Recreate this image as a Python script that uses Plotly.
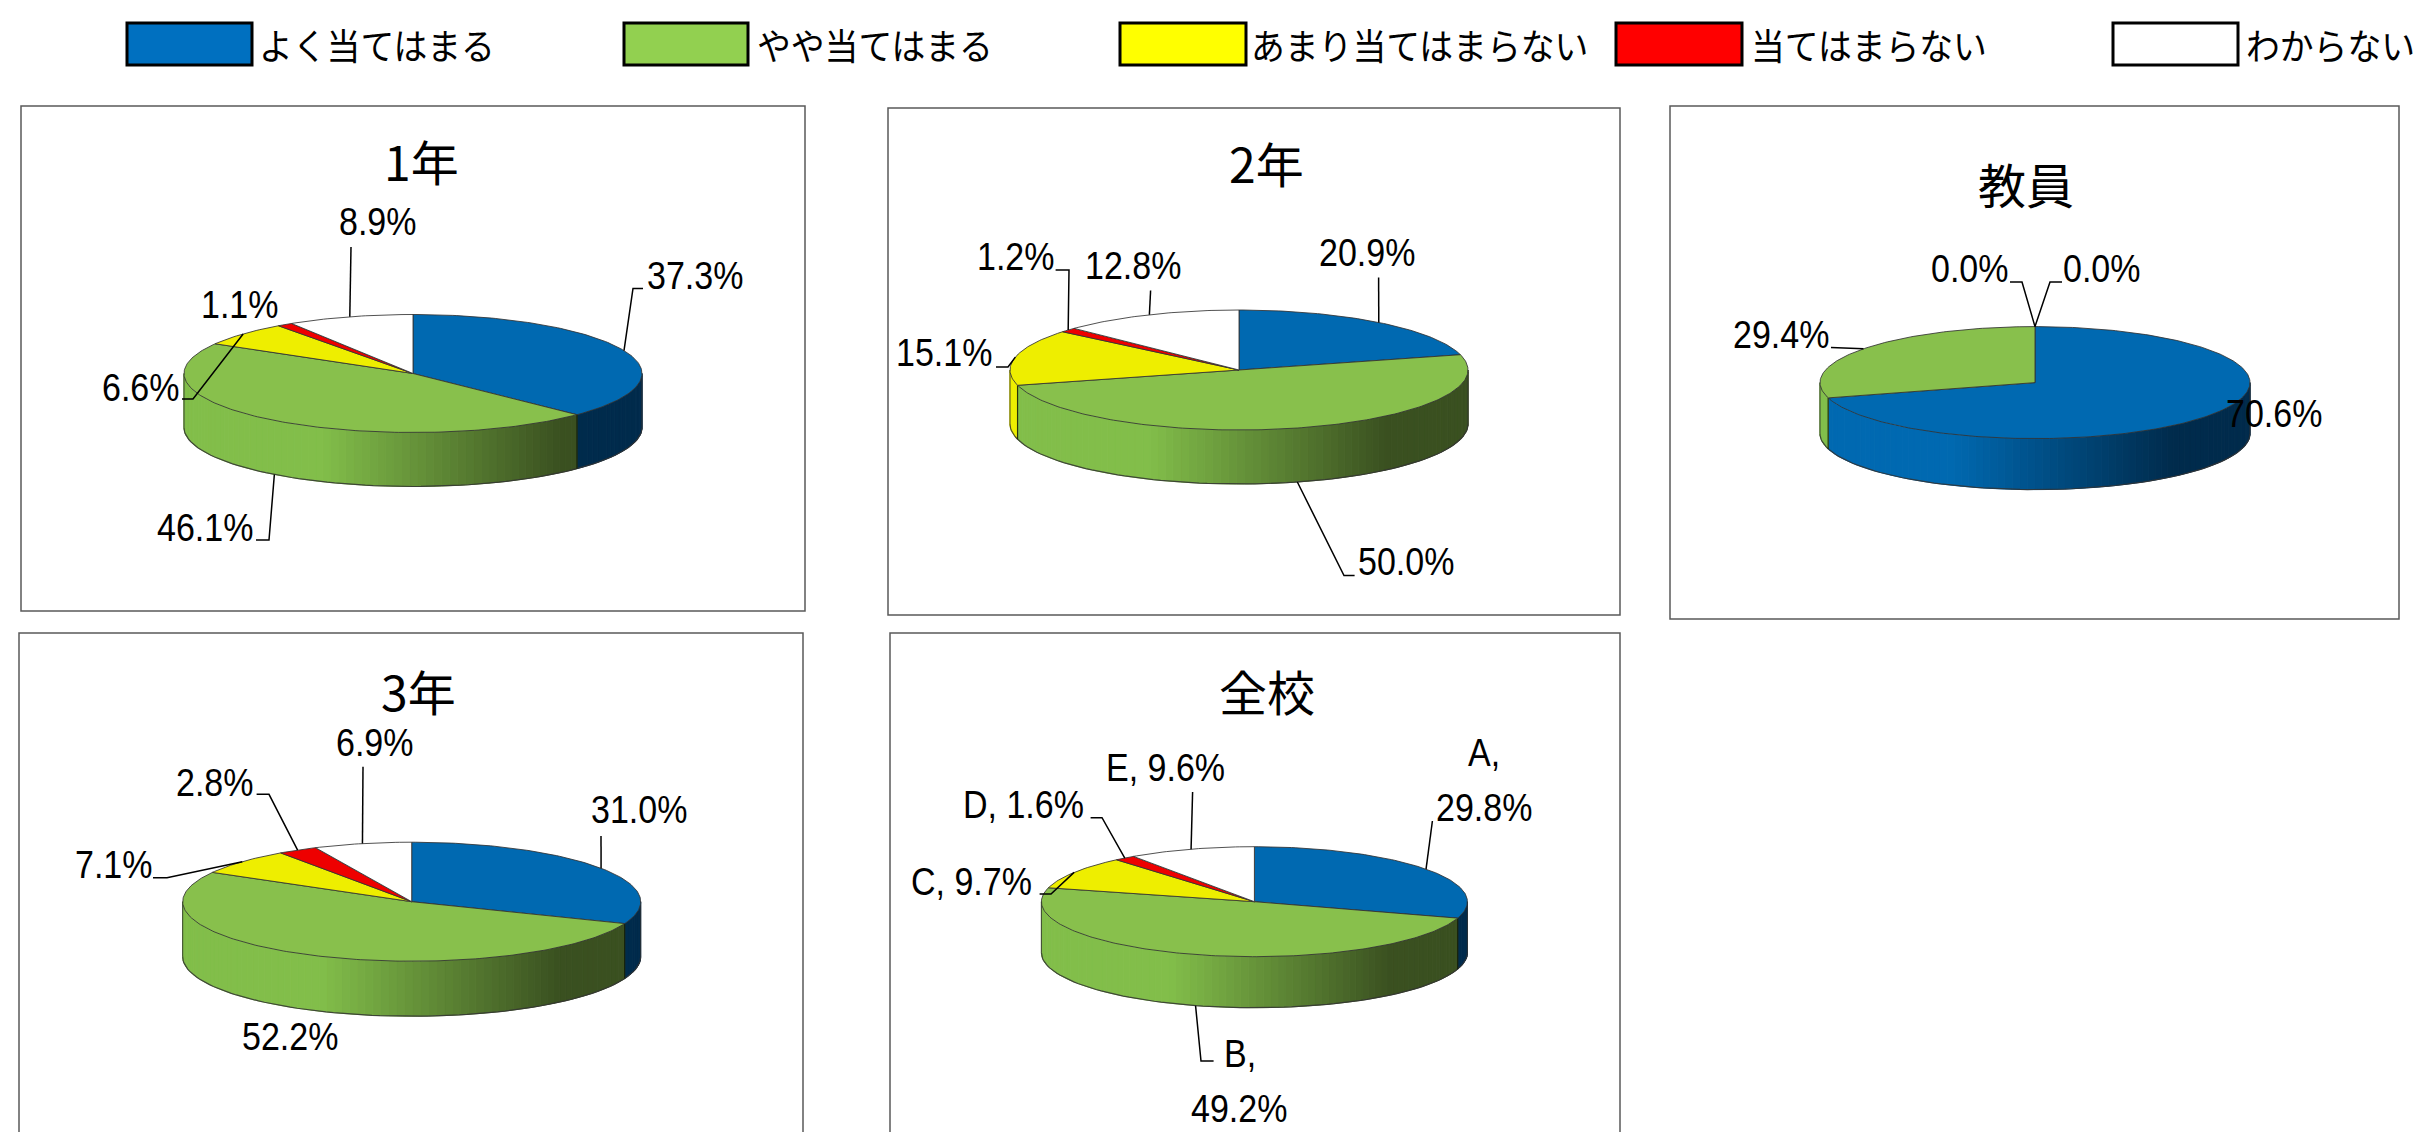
import math
import plotly.graph_objects as go

categories = ["よく当てはまる", "やや当てはまる", "あまり当てはまらない", "当てはまらない", "わからない"]
grade1 = [37.3, 46.1, 6.6, 1.1, 8.9]
grade2 = [20.9, 50.0, 15.1, 1.2, 12.8]
teachers = [70.6, 29.4, 0.0, 0.0, 0.0]
grade3 = [31.0, 52.2, 7.1, 2.8, 6.9]
school = [29.8, 49.2, 9.7, 1.6, 9.6]
titles = ["1年", "2年", "教員", "3年", "全校"]
series = [grade1, grade2, teachers, grade3, school]

# ---- styling / layout (pixels of the page) ----
W, H = 2422, 1132
NARROW = "Liberation Sans Narrow, Arial Narrow, Liberation Sans, sans-serif"
CJK = "Noto Sans CJK JP, sans-serif"
LEG_FILL = ["#0070C0", "#92D050", "#FFFF00", "#FF0000", "#FFFFFF"]
TOP = ["#0069B1", "#88C04C", "#EEEE00", "#EE0000", "#FFFFFF"]
DARK = [(0, 43, 76), (58, 80, 32), (90, 90, 0), (90, 0, 0), (120, 120, 120)]
BRIGHT = [(0, 105, 177), (130, 190, 74), (238, 238, 0), (238, 0, 0), (255, 255, 255)]
LEG_BOX = [(127, 252), (624, 748), (1120, 1246), (1616, 1742), (2113, 2238)]
LEG_TXT = [257, 755, 1249, 1749, 2244]
FRAMES = [(21, 106, 805, 611), (888, 108, 1620, 615), (1670, 106, 2399, 619),
          (19, 633, 803, 1145), (890, 633, 1620, 1145)]
TITLE_POS = [(421, 160), (1266, 162), (2026, 183), (418, 690), (1267, 690)]
PIES = [  # cx, cy, rx, ry, depth
    (413, 373.5, 229, 59, 54),
    (1239, 370, 229, 60, 54),
    (2035, 382.6, 215, 56, 51),
    (411.7, 901.7, 229, 59.5, 55),
    (1254.4, 901.7, 213, 55, 51),
]
# per pie: (slice index, [(text, x, y), ...], [knee points of the leader] or None)
LABELS = [
    [(0, [("37.3%", 695, 275)], [(643, 288.5), (633, 288.5)]),
     (1, [("46.1%", 205, 526.5)], [(256, 540), (269, 540)]),
     (2, [("6.6%", 140.5, 386.6)], [(182, 399), (193, 399)]),
     (3, [("1.1%", 240, 303.5)], None),
     (4, [("8.9%", 378, 220.5)], [(351, 247)])],
    [(0, [("20.9%", 1367, 252)], [(1378.6, 277.5)]),
     (1, [("50.0%", 1405.6, 561)], [(1354.6, 575.5), (1344, 575.5)]),
     (2, [("15.1%", 944, 352)], [(996, 367), (1008, 367)]),
     (3, [("1.2%", 1016, 256)], [(1055.6, 270), (1069, 270)]),
     (4, [("12.8%", 1133, 265)], [(1150.6, 290.5)])],
    [(0, [("70.6%", 2273.5, 413)], None),
     (1, [("29.4%", 1781, 334)], [(1831, 347.4)]),
     (2, [("0.0%", 1970, 268)], [(2010, 282), (2022, 282)]),
     (3, [("0.0%", 2102, 268)], [(2062, 282), (2050, 282)])],
    [(0, [("31.0%", 638.8, 809)], [(601, 836)]),
     (1, [("52.2%", 290, 1036)], None),
     (2, [("7.1%", 113.5, 864)], [(153, 877.7), (167, 877.7)]),
     (3, [("2.8%", 215, 781.7)], [(256.6, 794.3), (269, 794.3)]),
     (4, [("6.9%", 375, 741.7)], [(363, 766.7)])],
    [(0, [("A,", 1483.7, 751.7), ("29.8%", 1483.8, 807)], [(1432.4, 821)]),
     (1, [("B,", 1240, 1053), ("49.2%", 1239, 1108)], [(1213.6, 1061), (1201, 1061)]),
     (2, [("C, 9.7%", 971.5, 881)], [(1039.6, 894), (1051, 894)]),
     (3, [("D, 1.6%", 1023, 804)], [(1090.6, 817.7), (1102, 817.7)]),
     (4, [("E, 9.6%", 1165.6, 766.7)], [(1192.6, 792)])],
]
OUTLINE = "rgba(50,50,50,0.85)"
LABEL_SIZE = 34
LEGEND_SIZE = 33.8
fig = go.Figure()


def add_poly(xs, ys, fill, line, width):
    fig.add_trace(go.Scatter(x=xs, y=ys, mode="lines", fill="toself", fillcolor=fill,
                             line=dict(color=line, width=width), hoverinfo="skip", showlegend=False))


def add_line(xs, ys, color, width):
    fig.add_trace(go.Scatter(x=xs, y=ys, mode="lines", line=dict(color=color, width=width),
                             hoverinfo="skip", showlegend=False))


def shade(i, t):
    k = min(1.0, max(0.0, (t - 0.3) / 0.52))
    c = [round(b + (d - b) * k) for b, d in zip(BRIGHT[i], DARK[i])]
    return f"rgb({c[0]},{c[1]},{c[2]})"


def draw_pie(vals, geom):
    cx, cy, rx, ry, depth = geom
    px = lambda a: cx + rx * math.sin(math.radians(a))
    py = lambda a: cy - ry * math.cos(math.radians(a))
    total = sum(vals)
    cum, spans = 0.0, []
    for v in vals:
        spans.append((cum / total * 360, (cum + v) / total * 360))
        cum += v
    # side wall, front half only
    for i, (a, b) in enumerate(spans):
        lo, hi = max(a, 90), min(b, 270)
        if hi <= lo:
            continue
        n = max(1, int((hi - lo) / 2))
        for k in range(n):
            s = lo + (hi - lo) * k / n
            e = lo + (hi - lo) * (k + 1) / n
            t = (px((s + e) / 2) - (cx - rx)) / (2 * rx)
            col = shade(i, t)
            add_poly([px(s), px(e), px(e), px(s), px(s)],
                     [py(s), py(e), py(e) + depth, py(s) + depth, py(s)], col, col, 1)
    # bottom rim and vertical edges
    arc = [90 + d for d in range(0, 181, 2)]
    add_line([px(x) for x in arc], [py(x) + depth for x in arc], OUTLINE, 1.2)
    for a in (90, 270):
        add_line([px(a), px(a)], [py(a), py(a) + depth], OUTLINE, 1)
    for i, (a, b) in enumerate(spans):
        if vals[i] > 0 and 90 < a < 270:
            add_line([px(a), px(a)], [py(a), py(a) + depth], "rgba(20,30,10,0.9)", 1.2)
    # top face
    for i, (a, b) in enumerate(spans):
        if vals[i] <= 0:
            continue
        n = max(2, int(b - a))
        ang = [a + (b - a) * k / n for k in range(n + 1)]
        add_poly([cx] + [px(x) for x in ang] + [cx], [cy] + [py(x) for x in ang] + [cy],
                 TOP[i], OUTLINE, 1)
    return spans, px, py, depth


annotations, shapes = [], []
for (x0, y0, x1, y1) in FRAMES:
    shapes.append(dict(type="rect", x0=x0, y0=y0, x1=x1, y1=y1,
                       line=dict(color="#5a5a5a", width=1.5), fillcolor="rgba(0,0,0,0)", layer="below"))

for vals, geom, title, tpos, labels in zip(series, PIES, titles, TITLE_POS, LABELS):
    spans, px, py, depth = draw_pie(vals, geom)
    annotations.append(dict(x=tpos[0], y=tpos[1], text=title, showarrow=False,
                            xanchor="center", yanchor="middle",
                            font=dict(family=CJK, size=48, color="#000")))
    for idx, texts, knees in labels:
        a = (spans[idx][0] + spans[idx][1]) / 2
        for txt, x, y in texts:
            annotations.append(dict(x=x, y=y, text=txt, showarrow=False, xanchor="center", yanchor="middle",
                                    font=dict(family=NARROW, size=LABEL_SIZE, color="#000")))
        if knees:
            rim_y = py(a) + (depth if 90 < a < 270 else 0)
            add_line([k[0] for k in knees] + [px(a)], [k[1] for k in knees] + [rim_y], "#000", 1.5)

for name, fill, (x0, x1), tx in zip(categories, LEG_FILL, LEG_BOX, LEG_TXT):
    shapes.append(dict(type="rect", x0=x0, y0=23, x1=x1, y1=65, fillcolor=fill,
                       line=dict(color="#000", width=3)))
    annotations.append(dict(x=tx, y=44, text=name, showarrow=False, xanchor="left", yanchor="middle",
                            font=dict(family=CJK, size=LEGEND_SIZE, color="#000")))

fig.update_layout(
    width=W, height=H, margin=dict(l=0, r=0, t=0, b=0), autosize=False,
    paper_bgcolor="#fff", plot_bgcolor="#fff", showlegend=False,
    xaxis=dict(range=[0, W], visible=False, fixedrange=True),
    yaxis=dict(range=[H, 0], visible=False, fixedrange=True),
    annotations=annotations, shapes=shapes,
)
POST = """
document.body.style.margin='0';document.documentElement.style.overflow='hidden';
document.querySelectorAll('.annotation-text').forEach(function(t){
  var fs=parseFloat(t.style.fontSize), sy=fs===34?1.16:(fs<34?1.07:1);
  if(sy===1) return;
  var b=t.getBBox(), c=b.y+b.height/2;
  t.setAttribute('transform','translate(0,'+c+') scale(1,'+sy+') translate(0,'+(-c)+')');
});
"""
fig.write_html("out.html", config={"displayModeBar": False}, post_script=POST)
